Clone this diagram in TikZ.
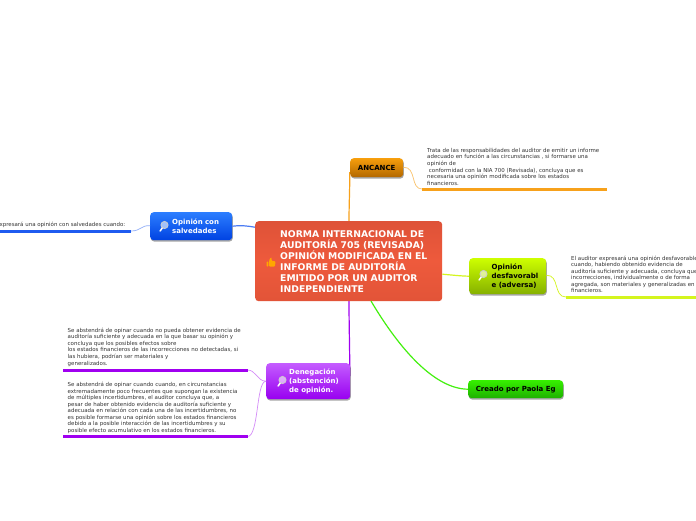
\documentclass[tikz,border=0pt]{standalone}
\usepackage{fontspec}
\setmainfont{DejaVu Sans}
\usetikzlibrary{shadows,calc}
\definecolor{txt}{HTML}{333333}
\definecolor{orangeL}{HTML}{F7A11B}
\definecolor{blueL}{HTML}{1F5BF0}
\definecolor{yellowL}{HTML}{D4F51E}
\definecolor{purpleL}{HTML}{A000F0}
\definecolor{greenL}{HTML}{44F010}
\definecolor{cenA}{RGB}{222,82,56}
\definecolor{cenB}{RGB}{238,90,60}
\definecolor{cenC}{RGB}{226,84,56}
\definecolor{ancA}{RGB}{247,158,12}
\definecolor{ancB}{RGB}{178,104,0}
\definecolor{salA}{RGB}{44,126,255}
\definecolor{salB}{RGB}{0,66,226}
\definecolor{desA}{RGB}{206,255,0}
\definecolor{desB}{RGB}{134,176,0}
\definecolor{denA}{RGB}{196,92,255}
\definecolor{denB}{RGB}{152,0,240}
\definecolor{creA}{RGB}{54,240,0}
\definecolor{creB}{RGB}{30,176,0}
\tikzset{
  basebox/.style={rounded corners=3.5pt,inner xsep=1pt,inner ysep=0pt,anchor=north west,align=left,
    font=\fontsize{7}{8.9}\selectfont\bfseries},
  topicbox/.style={basebox,
    drop shadow={shadow xshift=0.6pt,shadow yshift=-1.4pt,opacity=0.35,fill=black}},
  note/.style={inner sep=0pt,align=left,text=txt,font=\fontsize{5.47}{6.55}\selectfont},
  branch/.style={line width=1.2pt},
  twig/.style={line width=.7pt},
  rule/.style={line width=3pt},
  lensmark/.pic={
    \draw[white,line width=1.5pt,line cap=round] (-2,2.7) -- (-4.4,6);
    \draw[white!80!black,line width=.8pt,fill=white,fill opacity=.6] (0,0) circle (3.6);
  },
  thumbmark/.pic={
    \fill[orange!70!yellow,rounded corners=.8pt] (-4.5,-.5) rectangle (-2.6,4.5);
    \fill[orange!70!yellow,rounded corners=1pt] (-2,-.8) -- (-.6,-4.5) -- (.8,-4.2) -- (.5,-1) -- (4.5,-1) -- (4,4.5) -- (-2,4.5) -- cycle;
  }
}
\begin{document}
\begin{tikzpicture}[x=1pt,y=-1pt]
\useasboundingbox (0,0) rectangle (696,520);
\clip (0,0) rectangle (696,520);
\fill[white] (0,0) rectangle (696,520);

% free ends of the branches and note rules
\coordinate (r1a) at (422,189); \coordinate (r1b) at (607,189);
\coordinate (r2a) at (131,231); \coordinate (r2b) at (-2,231);
\coordinate (r3a) at (566,297); \coordinate (r3b) at (698,297);
\coordinate (r4a) at (247.5,370); \coordinate (r4b) at (62.5,370);
\coordinate (r5a) at (247.5,436.5); \coordinate (r5b) at (62.5,436.5);
\coordinate (oA) at (349,222); \coordinate (oB) at (349.8,172);
\coordinate (pA) at (349,300); \coordinate (pB) at (349.8,376);

% branches drawn first, under the boxes
\draw[branch,draw=orangeL] (oA) .. controls (349,205) and (349.8,190) .. (oB);
\draw[branch,draw=purpleL] (pA) .. controls (349,325) and (349.8,350) .. (pB);

% main topic and branches
\node[basebox,text=white,minimum width=187pt,minimum height=80pt,text width=185pt,
  top color=cenA,bottom color=cenC,middle color=cenB,
  font=\fontsize{9.25}{11}\selectfont\bfseries,
  execute at begin node={\leftskip=24pt}] (central) at (255,221)
  {NORMA INTERNACIONAL DE\\AUDITORÍA 705 (REVISADA)\\OPINIÓN MODIFICADA EN EL\\INFORME DE AUDITORÍA\\EMITIDO POR UN AUDITOR\\INDEPENDIENTE};

\node[topicbox,text=black,top color=ancA,bottom color=ancB,
  minimum width=53pt,minimum height=19pt,align=center] (alc) at (350,158) {ANCANCE};

\node[topicbox,text=white,top color=salA,bottom color=salB,
  minimum width=82pt,minimum height=28pt,text width=80pt,execute at begin node={\leftskip=21pt}] (sal) at (150,212)
  {Opinión con\\salvedades};

\node[topicbox,text=black,top color=desA,bottom color=desB,
  minimum width=77pt,minimum height=36pt,text width=75pt,execute at begin node={\leftskip=21.5pt}] (des) at (469,258)
  {Opinión\\desfavorabl\\e (adversa)};

\node[topicbox,text=white,top color=denA,bottom color=denB,
  minimum width=84pt,minimum height=36pt,text width=82pt,execute at begin node={\leftskip=22pt}] (den) at (266,363)
  {Denegación\\(abstención)\\de opinión.};

\node[topicbox,text=black,top color=creA,bottom color=creB,
  minimum width=95pt,minimum height=18pt,align=center] (cre) at (468,380) {Creado por Paola Eg};

% notes
\node[note,anchor=north west] (n1) at (427,148)
 {Trata de las responsabilidades del auditor de emitir un informe\\
  adecuado en función a las circunstancias , si formarse una\\
  opinión de\\
  \ conformidad con la NIA 700 (Revisada), concluya que es\\
  necesaria una opinión modificada sobre los estados\\
  financieros.};
\node[note,anchor=east] (n2) at (125.5,224.5) {El auditor expresará una opinión con salvedades cuando:};
\node[note,anchor=north west] (n3) at (571,255.6)
 {El auditor expresará una opinión desfavorable\\
  cuando, habiendo obtenido evidencia de\\
  auditoría suficiente y adecuada, concluya que las\\
  incorrecciones, individualmente o de forma\\
  agregada, son materiales y generalizadas en los estados\\
  financieros.};
\node[note,anchor=north west] (n4) at (67.5,327.7)
 {Se abstendrá de opinar cuando no pueda obtener evidencia de\\
  auditoría suficiente y adecuada en la que basar su opinión y\\
  concluya que los posibles efectos sobre\\
  los estados financieros de las incorrecciones no detectadas, si\\
  las hubiera, podrían ser materiales y\\
  generalizados.};
\node[note,anchor=north west] (n5) at (67.5,382)
 {Se abstendrá de opinar cuando cuando, en circunstancias\\
  extremadamente poco frecuentes que supongan la existencia\\
  de múltiples incertidumbres, el auditor concluya que, a\\
  pesar de haber obtenido evidencia de auditoría suficiente y\\
  adecuada en relación con cada una de las incertidumbres, no\\
  es posible formarse una opinión sobre los estados financieros\\
  debido a la posible interacción de las incertidumbres y su\\
  posible efecto acumulativo en los estados financieros.};

% branches from the main topic
\draw[branch,blueL!80!white] (central.west) ++(0,-34) .. controls (248,226) and (240,225) .. (sal.east);
\draw[branch,yellowL] (central.east) ++(0,13) .. controls (452,275) and (460,276) .. (des.west);
\draw[branch,greenL] (371,301) .. controls (400,350) and (435,389) .. (cre.west);

% twigs and rules
\draw[twig,orangeL!65!white] (alc.east) ++(0,-.5) .. controls (417,167) and (410,189) .. (r1a);
\draw[rule,orangeL] (r1a) -- (r1b);
\draw[twig,blueL!50!white] (sal.west) ++(0,-.5) .. controls (141,225) and (141,231) .. (r2a);
\draw[rule,blueL] (r2a) -- (r2b);
\draw[twig,yellowL] (des.east) ++(0,-1) .. controls (560,275) and (553,297) .. (r3a);
\draw[rule,yellowL] (r3a) -- (r3b);
\draw[twig,purpleL!45!white] (den.west) .. controls (257,381) and (256,370) .. (r4a);
\draw[rule,purpleL] (r4a) -- (r4b);
\draw[twig,purpleL!45!white] (den.west) .. controls (256,381) and (259,436.5) .. (r5a);
\draw[rule,purpleL] (r5a) -- (r5b);

% icons
\pic at (271,262) {thumbmark};
\pic at (164.5,225) {lensmark};
\pic at (483.5,274) {lensmark};
\pic at (282.5,380) {lensmark};
\end{tikzpicture}
\end{document}
